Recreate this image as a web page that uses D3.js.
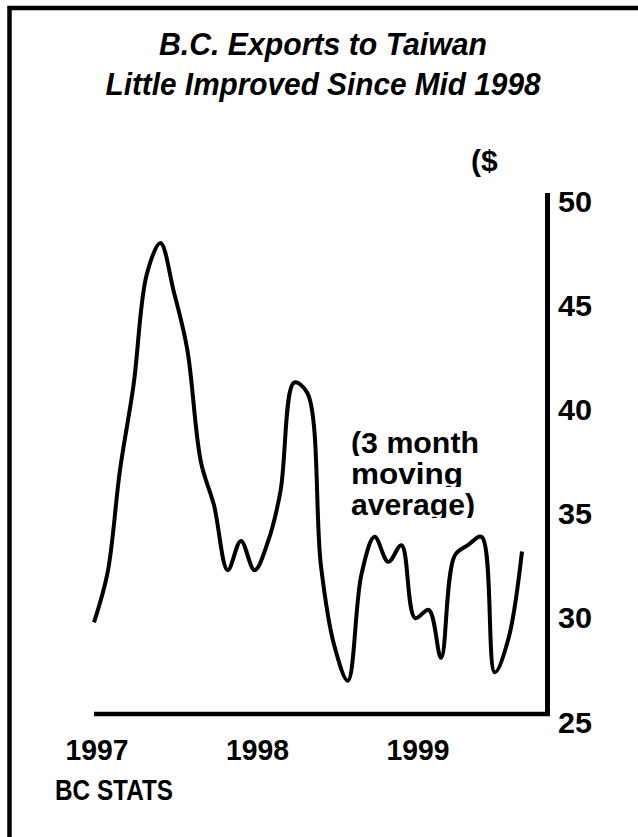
<!DOCTYPE html>
<html>
<head>
<meta charset="utf-8">
<script src="https://cdn.jsdelivr.net/npm/d3@7"></script>
<style>
  html, body { margin: 0; padding: 0; background: #fff; }
  svg { display: block; }
  text { font-family: "Liberation Sans", Arial, sans-serif; font-weight: bold; fill: #000; }
</style>
</head>
<body>
<script>
// ---- data ----
const titleLines = ["B.C. Exports to Taiwan", "Little Improved Since Mid 1998"];
const unitLabel = "($";
const noteLines = ["(3 month", "moving", "average)"];
const sourceLabel = "BC STATS";
const yTicks = [25, 30, 35, 40, 45, 50];
const yearTicks = [1997, 1998, 1999];
// monthly, Jan 1997 .. Sep 1999 (3 month moving average, $ millions)
const months = d3.range(33).map(i => new Date(1997, i, 1));
const values = [29.4, 31.8, 36.7, 40.8, 46.1, 47.6, 45.3, 42.5, 37.1, 35.0, 31.9, 33.3,
                31.9, 33.3, 35.7, 40.9, 40.4, 32.1, 28.3, 26.6, 31.7, 33.5, 32.3, 33.1,
                29.6, 30.0, 27.7, 32.6, 33.1, 33.5, 27.0, 28.6, 32.8];

const W = 638, H = 837;
const svg = d3.select("body").append("svg").attr("width", W).attr("height", H);

// frame (only top and left edges visible)
svg.append("rect").attr("x", 9.5).attr("y", 8).attr("width", 700).attr("height", 900)
  .attr("fill", "none").attr("stroke", "#000").attr("stroke-width", 4.5);

const x = d3.scaleTime().domain([months[0], months[months.length - 1]]).range([94, 522]);
const y = d3.scaleLinear().domain([25, 50]).range([714, 193]);
const axisX = 547.5;

// title
const titleLen = [328, 435];
svg.selectAll("text.title").data(titleLines).join("text")
  .attr("class", "title")
  .attr("x", 323).attr("y", (d, i) => 55 + i * 40)
  .attr("text-anchor", "middle").attr("font-size", 31).attr("font-style", "italic")
  .attr("textLength", (d, i) => titleLen[i]).attr("lengthAdjust", "spacingAndGlyphs")
  .text(d => d);

// unit label
svg.append("text").attr("x", 471).attr("y", 171).attr("font-size", 30).text(unitLabel);

// line
const line = d3.line().x((d, i) => x(months[i])).y(d => y(d)).curve(d3.curveCatmullRom.alpha(0.5));
svg.append("path").datum(values).attr("d", line)
  .attr("fill", "none").attr("stroke", "#000").attr("stroke-width", 4)
  .attr("stroke-linejoin", "round").attr("stroke-linecap", "butt");

// axes
svg.append("line").attr("x1", axisX).attr("x2", axisX).attr("y1", y(50)).attr("y2", y(25) + 2)
  .attr("stroke", "#000").attr("stroke-width", 5);
svg.append("line").attr("x1", x(months[0])).attr("x2", axisX + 2.5).attr("y1", y(25)).attr("y2", y(25))
  .attr("stroke", "#000").attr("stroke-width", 4.5);

// y tick labels
svg.selectAll("text.ytick").data(yTicks).join("text")
  .attr("class", "ytick")
  .attr("x", 558).attr("y", d => y(d) + 18.5)
  .attr("font-size", 30).attr("textLength", 34).attr("lengthAdjust", "spacingAndGlyphs")
  .text(d => d);

// year labels
svg.selectAll("text.xtick").data(yearTicks).join("text")
  .attr("class", "xtick")
  .attr("x", d => x(new Date(d, 0, 1)) + 3).attr("y", 760)
  .attr("text-anchor", "middle").attr("font-size", 30)
  .attr("textLength", 63).attr("lengthAdjust", "spacingAndGlyphs").text(d => d);

// note with clipped descenders
const noteLen = [128, 112, 124];
const defs = svg.append("defs");
noteLines.forEach((t, i) => {
  const base = 453 + i * 31;
  defs.append("clipPath").attr("id", "nclip" + i)
    .append("rect").attr("x", 340).attr("y", base - 30).attr("width", 170).attr("height", 33);
  svg.append("text").attr("x", 351).attr("y", base).attr("font-size", 30)
    .attr("textLength", noteLen[i]).attr("lengthAdjust", "spacingAndGlyphs")
    .attr("clip-path", "url(#nclip" + i + ")").text(t);
});

// source
svg.append("text").attr("x", 55).attr("y", 800).attr("font-size", 29)
  .attr("textLength", 118).attr("lengthAdjust", "spacingAndGlyphs").text(sourceLabel);
</script>
</body>
</html>
